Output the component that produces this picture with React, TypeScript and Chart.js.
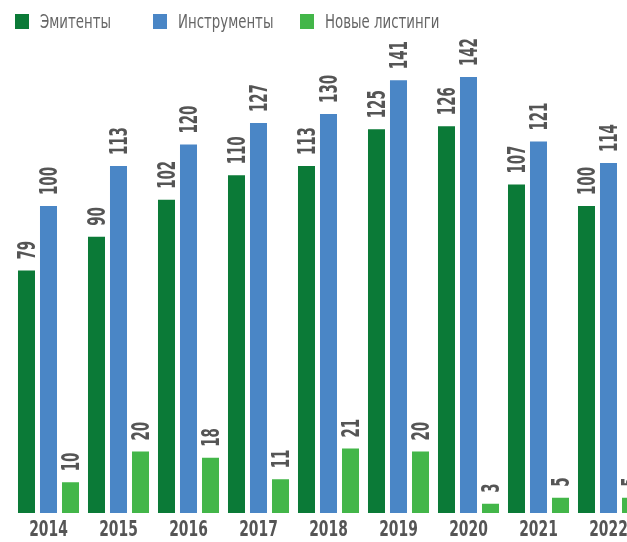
import React, { useEffect, useRef } from "react";
import { Chart, registerables } from "chart.js";

Chart.register(...registerables);

const YEARS = ["2014", "2015", "2016", "2017", "2018", "2019", "2020", "2021", "2022"];
const ISSUERS = [79, 90, 102, 110, 113, 125, 126, 107, 100];
const INSTRUMENTS = [100, 113, 120, 127, 130, 141, 142, 121, 114];
const NEW_LISTINGS = [10, 20, 18, 11, 21, 20, 3, 5, 5];

const SERIES_NAMES = ["Эмитенты", "Инструменты", "Новые листинги"];
const COLORS = ["#0b7a37", "#4a86c6", "#43b649"];

const FONT = '"DejaVu Sans Condensed", "DejaVu Sans", sans-serif';

const valueLabels = {
  id: "valueLabels",
  afterDatasetsDraw(chart: any) {
    const ctx = chart.ctx;
    chart.data.datasets.forEach((ds: any, di: number) => {
      const meta = chart.getDatasetMeta(di);
      meta.data.forEach((bar: any, i: number) => {
        const v = ds.data[i];
        const size = 24;
        ctx.save();
        ctx.translate(bar.x, bar.y - 11);
        ctx.rotate(-Math.PI / 2);
        ctx.scale(0.62, 1);
        ctx.font = `bold ${size}px ${FONT}`;
        ctx.fillStyle = "#555555";
        ctx.textAlign = "left";
        ctx.textBaseline = "alphabetic";
        ctx.fillText(String(v), 0, size * 0.36);
        ctx.restore();
      });
    });
  },
};

const categoryLabels = {
  id: "categoryLabels",
  afterDraw(chart: any) {
    const ctx = chart.ctx;
    const xs = chart.scales.x;
    const size = 22;
    chart.data.labels.forEach((lab: string, i: number) => {
      const x = xs.getPixelForValue(i);
      ctx.save();
      ctx.translate(x, 536);
      ctx.scale(0.7, 1);
      ctx.font = `bold ${size}px ${FONT}`;
      ctx.fillStyle = "#555555";
      ctx.textAlign = "center";
      ctx.textBaseline = "alphabetic";
      ctx.fillText(lab, 0, 0);
      ctx.restore();
    });
  },
};

export default function App() {
  const ref = useRef<HTMLCanvasElement | null>(null);

  useEffect(() => {
    if (!ref.current) return;
    const chart = new Chart(ref.current, {
      type: "bar",
      data: {
        labels: YEARS,
        datasets: [ISSUERS, INSTRUMENTS, NEW_LISTINGS].map((d, i) => ({
          label: SERIES_NAMES[i],
          data: d,
          backgroundColor: COLORS[i],
          borderWidth: 0,
          categoryPercentage: 0.943,
          barPercentage: 0.773,
        })),
      },
      options: {
        responsive: false,
        maintainAspectRatio: false,
        animation: false,
        devicePixelRatio: 1,
        layout: { padding: { left: 13.5, right: 16.5, top: 52.5, bottom: 29 } },
        plugins: {
          legend: { display: false },
          tooltip: { enabled: false },
        },
        scales: {
          x: { display: false },
          y: { display: false, min: 0, max: 150 },
        },
      },
      plugins: [valueLabels, categoryLabels],
    });
    return () => chart.destroy();
  }, []);

  const legendItems = [
    { x: 15, text: SERIES_NAMES[0], color: COLORS[0] },
    { x: 153, text: SERIES_NAMES[1], color: COLORS[1] },
    { x: 300, text: SERIES_NAMES[2], color: COLORS[2] },
  ];

  return (
    <div style={{ position: "absolute", left: 0, top: 0, width: 627, height: 542, overflow: "hidden", background: "#fff" }}>
      <canvas ref={ref} width={660} height={542} style={{ position: "absolute", left: 0, top: 0 }} />
      {legendItems.map((it) => (
        <div key={it.text} style={{ position: "absolute", left: it.x, top: 8, height: 26, display: "flex", alignItems: "center", whiteSpace: "nowrap" }}>
          <span style={{ display: "inline-block", width: 14, height: 15, background: it.color, marginRight: 11, flex: "none" }} />
          <span style={{ fontFamily: FONT, fontSize: 19, color: "#666666", lineHeight: "26px", display: "inline-block", transform: "scaleX(0.78)", transformOrigin: "left center" }}>{it.text}</span>
        </div>
      ))}
    </div>
  );
}
